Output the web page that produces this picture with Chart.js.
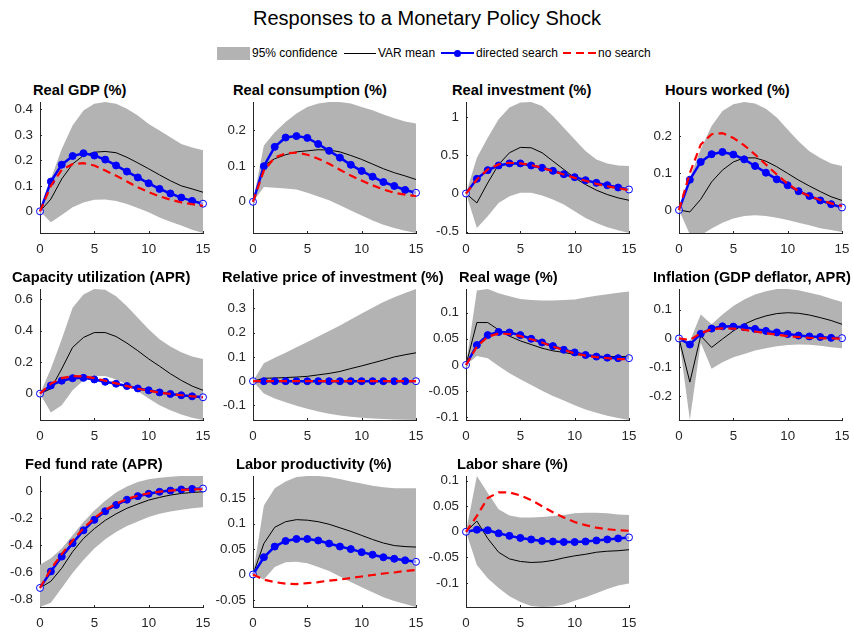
<!DOCTYPE html>
<html>
<head>
<meta charset="utf-8">
<script src="https://cdn.jsdelivr.net/npm/chart.js@4.4.1/dist/chart.umd.min.js"></script>
<style>
  html, body { margin: 0; padding: 0; background: #fff; }
  body { width: 854px; height: 633px; position: relative; overflow: hidden;
         font-family: 'Liberation Sans', Arial, Helvetica, sans-serif; }
  #title { position: absolute; left: 0; top: 6px; width: 854px; text-align: center;
           font-size: 20px; line-height: 24px; color: #000; }
  .lg { position: absolute; }
  .lgtext { position: absolute; top: 46px; font-size: 12px; line-height: 15px; color: #000; white-space: nowrap; }
  .ptitle { position: absolute; white-space: nowrap; font-weight: bold; font-size: 14.67px;
            line-height: 16px; color: #000; }
  canvas { position: absolute; }
</style>
</head>
<body>
<div id="title">Responses to a Monetary Policy Shock</div>

<div class="lg" style="left:217px; top:47px; width:33px; height:13px; background:#b3b3b3;"></div>
<div class="lgtext" style="left:252px;">95% confidence</div>
<div class="lg" style="left:344px; top:53px; width:32px; height:1px; background:#000;"></div>
<div class="lgtext" style="left:378px;">VAR mean</div>
<div class="lg" style="left:441px; top:52px; width:33px; height:2px; background:#0000ff;"></div>
<div class="lg" style="left:454px; top:49.5px; width:7px; height:7px; border-radius:50%; background:#0000ff;"></div>
<div class="lgtext" style="left:476px;">directed search</div>
<div class="lg" style="left:563px; top:52px; width:33px; height:2px;
     background:repeating-linear-gradient(to right, #ff0000 0 8px, transparent 8px 12.5px);"></div>
<div class="lgtext" style="left:598px;">no search</div>

<script>
// horizon (quarters)
const steps = [0, 1, 2, 3, 4, 5, 6, 7, 8, 9, 10, 11, 12, 13, 14, 15];
const xTicks = [0, 5, 10, 15];

// Real GDP
const gdpLo  = [0, -0.043, -0.014, 0.016, 0.035, 0.045, 0.046, 0.041, 0.029, 0.013, -0.004, -0.024, -0.041, -0.056, -0.072, -0.085];
const gdpHi  = [0, 0.127, 0.245, 0.337, 0.396, 0.422, 0.429, 0.422, 0.403, 0.376, 0.343, 0.317, 0.291, 0.264, 0.25, 0.24];
const gdpVar = [0, 0.048, 0.127, 0.186, 0.219, 0.232, 0.235, 0.23, 0.212, 0.19, 0.167, 0.143, 0.12, 0.1, 0.088, 0.075];
const gdpDir = [0, 0.117, 0.183, 0.217, 0.228, 0.219, 0.203, 0.18, 0.156, 0.133, 0.11, 0.088, 0.07, 0.054, 0.041, 0.03];
const gdpNo  = [0, 0.1, 0.163, 0.185, 0.189, 0.18, 0.16, 0.14, 0.117, 0.094, 0.075, 0.059, 0.046, 0.035, 0.028, 0.022];
const gdpTicks = [0, 0.1, 0.2, 0.3, 0.4];

// Real consumption
const conLo  = [0, 0.041, 0.039, 0.037, 0.034, 0.025, 0.015, 0.004, -0.01, -0.024, -0.038, -0.052, -0.064, -0.073, -0.081, -0.087];
const conHi  = [0, 0.157, 0.194, 0.222, 0.246, 0.264, 0.274, 0.278, 0.278, 0.274, 0.264, 0.255, 0.243, 0.233, 0.224, 0.218];
const conVar = [0, 0.101, 0.12, 0.131, 0.139, 0.142, 0.145, 0.144, 0.139, 0.129, 0.118, 0.105, 0.092, 0.081, 0.072, 0.062];
const conDir = [0, 0.099, 0.153, 0.179, 0.183, 0.178, 0.161, 0.142, 0.123, 0.103, 0.086, 0.07, 0.055, 0.044, 0.033, 0.025];
const conNo  = [0, 0.087, 0.123, 0.135, 0.137, 0.131, 0.12, 0.106, 0.089, 0.073, 0.059, 0.046, 0.034, 0.025, 0.02, 0.016];
const conTicks = [0, 0.1, 0.2];

// Real investment
const invLo  = [0, -0.452, -0.298, -0.123, -0.035, 0.009, 0.009, -0.026, -0.079, -0.145, -0.232, -0.32, -0.386, -0.443, -0.482, -0.517];
const invHi  = [0, 0.469, 0.732, 0.974, 1.127, 1.193, 1.2, 1.149, 1.018, 0.864, 0.71, 0.557, 0.447, 0.395, 0.368, 0.36];
const invVar = [0, -0.123, 0.14, 0.38, 0.535, 0.605, 0.6, 0.535, 0.425, 0.316, 0.206, 0.118, 0.044, -0.013, -0.057, -0.088];
const invDir = [0, 0.193, 0.307, 0.368, 0.395, 0.395, 0.368, 0.338, 0.298, 0.254, 0.215, 0.175, 0.14, 0.11, 0.079, 0.053];
const invNo  = [0, 0.184, 0.316, 0.382, 0.404, 0.395, 0.373, 0.338, 0.294, 0.25, 0.206, 0.167, 0.127, 0.096, 0.07, 0.044];
const invTicks = [-0.5, 0, 0.5, 1];

// Hours worked
const hrsLo  = [0, -0.066, -0.068, -0.05, -0.034, -0.023, -0.016, -0.014, -0.016, -0.021, -0.027, -0.034, -0.041, -0.049, -0.054, -0.059];
const hrsHi  = [0, 0.087, 0.164, 0.227, 0.268, 0.286, 0.292, 0.288, 0.274, 0.25, 0.218, 0.186, 0.159, 0.141, 0.126, 0.119];
const hrsVar = [0, -0.005, 0.029, 0.076, 0.108, 0.13, 0.141, 0.141, 0.132, 0.117, 0.099, 0.081, 0.065, 0.05, 0.036, 0.026];
const hrsDir = [0, 0.082, 0.13, 0.151, 0.157, 0.15, 0.137, 0.119, 0.101, 0.083, 0.067, 0.051, 0.038, 0.026, 0.016, 0.007];
const hrsNo  = [0, 0.1, 0.177, 0.205, 0.208, 0.195, 0.175, 0.15, 0.123, 0.096, 0.071, 0.051, 0.038, 0.027, 0.018, 0.011];
const hrsTicks = [0, 0.1, 0.2];

// Capacity utilization
const capLo  = [0, -0.119, -0.073, 0.021, 0.084, 0.111, 0.111, 0.09, 0.056, 0.015, -0.031, -0.073, -0.105, -0.132, -0.153, -0.167];
const capHi  = [0, 0.157, 0.345, 0.544, 0.628, 0.663, 0.659, 0.617, 0.554, 0.481, 0.408, 0.345, 0.299, 0.262, 0.236, 0.22];
const capVar = [0, 0.031, 0.157, 0.293, 0.356, 0.387, 0.387, 0.362, 0.32, 0.272, 0.22, 0.174, 0.126, 0.084, 0.048, 0.021];
const capDir = [0, 0.052, 0.082, 0.098, 0.1, 0.09, 0.075, 0.063, 0.048, 0.033, 0.021, 0.008, -0.002, -0.01, -0.017, -0.023];
const capNo  = [0, 0.063, 0.098, 0.111, 0.109, 0.098, 0.082, 0.065, 0.048, 0.031, 0.019, 0.006, -0.002, -0.01, -0.017, -0.023];
const capTicks = [0, 0.2, 0.4, 0.6];

// Relative price of investment
const rpiLo  = [0, -0.051, -0.071, -0.087, -0.101, -0.114, -0.125, -0.134, -0.141, -0.147, -0.151, -0.154, -0.156, -0.158, -0.159, -0.16];
const rpiHi  = [0, 0.074, 0.097, 0.117, 0.14, 0.162, 0.184, 0.207, 0.23, 0.254, 0.279, 0.303, 0.326, 0.346, 0.363, 0.38];
const rpiVar = [0, 0.012, 0.013, 0.015, 0.017, 0.02, 0.026, 0.032, 0.04, 0.052, 0.063, 0.075, 0.087, 0.1, 0.109, 0.117];
const rpiDir = [0, 0, 0, 0, 0, 0, 0, 0, 0, 0, 0, 0, 0, 0, 0, 0];
const rpiNo  = [0, 0, 0, 0, 0, 0, 0, 0, 0, 0, 0, 0, 0, 0, 0, 0];
const rpiTicks = [-0.1, 0, 0.1, 0.2, 0.3];

// Real wage
const rwLo  = [0, 0.017, 0.013, -0.002, -0.016, -0.027, -0.038, -0.049, -0.059, -0.068, -0.077, -0.085, -0.091, -0.097, -0.101, -0.105];
const rwHi  = [0, 0.142, 0.145, 0.137, 0.131, 0.126, 0.124, 0.123, 0.123, 0.124, 0.125, 0.129, 0.132, 0.135, 0.138, 0.14];
const rwVar = [0, 0.081, 0.081, 0.067, 0.055, 0.046, 0.039, 0.032, 0.027, 0.024, 0.02, 0.018, 0.017, 0.016, 0.016, 0.016];
const rwDir = [0, 0.038, 0.057, 0.063, 0.062, 0.057, 0.05, 0.043, 0.036, 0.029, 0.024, 0.019, 0.016, 0.014, 0.013, 0.013];
const rwNo  = [0, 0.035, 0.054, 0.06, 0.059, 0.055, 0.049, 0.043, 0.035, 0.029, 0.022, 0.018, 0.015, 0.013, 0.011, 0.011];
const rwTicks = [-0.1, -0.05, 0, 0.05, 0.1];

// Inflation (GDP deflator)
const infLo  = [0, -0.282, -0.015, -0.105, -0.082, -0.065, -0.054, -0.042, -0.034, -0.027, -0.023, -0.021, -0.022, -0.025, -0.03, -0.034];
const infHi  = [0, -0.01, 0.083, 0.049, 0.083, 0.112, 0.135, 0.152, 0.163, 0.171, 0.171, 0.167, 0.158, 0.149, 0.137, 0.126];
const infVar = [0, -0.151, 0.009, -0.031, -0.002, 0.026, 0.049, 0.066, 0.078, 0.086, 0.089, 0.087, 0.081, 0.072, 0.062, 0.049];
const infDir = [0, -0.021, 0.016, 0.034, 0.042, 0.041, 0.039, 0.033, 0.026, 0.021, 0.015, 0.01, 0.007, 0.005, 0.002, 0.001];
const infNo  = [0, -0.005, 0.018, 0.032, 0.035, 0.034, 0.03, 0.024, 0.018, 0.013, 0.008, 0.005, 0.002, 0.001, 0, -0.001];
const infTicks = [-0.2, -0.1, 0, 0.1];

// Fed fund rate
const ffrLo  = [-0.853, -0.821, -0.713, -0.604, -0.507, -0.423, -0.355, -0.302, -0.258, -0.225, -0.193, -0.169, -0.152, -0.138, -0.128, -0.121];
const ffrHi  = [-0.543, -0.495, -0.423, -0.326, -0.229, -0.145, -0.072, -0.012, 0.031, 0.065, 0.085, 0.097, 0.104, 0.109, 0.109, 0.109];
const ffrVar = [-0.713, -0.664, -0.568, -0.447, -0.35, -0.278, -0.217, -0.169, -0.128, -0.097, -0.068, -0.048, -0.031, -0.019, -0.012, -0.007];
const ffrDir = [-0.713, -0.592, -0.483, -0.384, -0.29, -0.213, -0.15, -0.104, -0.065, -0.039, -0.022, -0.007, 0.002, 0.01, 0.014, 0.017];
const ffrNo  = [-0.713, -0.575, -0.465, -0.365, -0.275, -0.2, -0.14, -0.095, -0.06, -0.035, -0.018, -0.006, 0.002, 0.007, 0.01, 0.012];
const ffrTicks = [-0.8, -0.6, -0.4, -0.2, 0];

// Labor productivity
const lpLo  = [0, -0.01, 0.015, 0.024, 0.025, 0.022, 0.015, 0.007, -0.004, -0.015, -0.025, -0.035, -0.045, -0.052, -0.058, -0.064];
const lpHi  = [0, 0.136, 0.17, 0.183, 0.192, 0.194, 0.194, 0.192, 0.188, 0.183, 0.179, 0.175, 0.172, 0.17, 0.17, 0.17];
const lpVar = [0, 0.061, 0.093, 0.104, 0.108, 0.107, 0.104, 0.099, 0.092, 0.085, 0.077, 0.069, 0.062, 0.057, 0.055, 0.054];
const lpDir = [0, 0.034, 0.055, 0.066, 0.07, 0.07, 0.067, 0.061, 0.055, 0.05, 0.044, 0.039, 0.034, 0.031, 0.028, 0.025];
const lpNo  = [0, -0.01, -0.015, -0.018, -0.019, -0.017, -0.015, -0.012, -0.01, -0.007, -0.004, -0.001, 0.002, 0.004, 0.007, 0.009];
const lpTicks = [-0.05, 0, 0.05, 0.1, 0.15];

// Labor share
const lsLo  = [0, -0.065, -0.091, -0.11, -0.126, -0.137, -0.145, -0.147, -0.146, -0.142, -0.135, -0.128, -0.12, -0.112, -0.105, -0.101];
const lsHi  = [0, 0.109, 0.076, 0.044, 0.032, 0.028, 0.028, 0.029, 0.031, 0.033, 0.036, 0.037, 0.037, 0.036, 0.034, 0.033];
const lsVar = [0, 0.021, -0.013, -0.04, -0.053, -0.058, -0.06, -0.059, -0.056, -0.051, -0.047, -0.044, -0.04, -0.038, -0.037, -0.035];
const lsDir = [0, 0.004, 0.003, -0.003, -0.008, -0.012, -0.015, -0.018, -0.019, -0.02, -0.02, -0.019, -0.017, -0.015, -0.013, -0.011];
const lsNo  = [0, 0.031, 0.066, 0.077, 0.077, 0.071, 0.062, 0.05, 0.038, 0.028, 0.019, 0.013, 0.008, 0.005, 0.003, 0.002];
const lsTicks = [-0.1, -0.05, 0, 0.05, 0.1];

const BAND = '#b3b3b3';
const BLUE = '#0000ff';
const RED  = '#ff0000';
const AXIS = '#262626';

// plot-area geometry (pixels)
const colLeft = [40, 253, 466, 679];
const rowTop  = [102, 289, 476];
const PW = 163, PH = 131;
const PAD = 20, YW = 45, XH = 24;

// tx = left edge of the panel title, as placed in the original figure
const panels = [
  { title: 'Real GDP (%)', r: 0, c: 0, tx: 33, lo: gdpLo, hi: gdpHi, mean: gdpVar, dir: gdpDir, nos: gdpNo, ticks: gdpTicks, min: -0.085, max: 0.429 },
  { title: 'Real consumption (%)', r: 0, c: 1, tx: 233, lo: conLo, hi: conHi, mean: conVar, dir: conDir, nos: conNo, ticks: conTicks, min: -0.087, max: 0.278 },
  { title: 'Real investment (%)', r: 0, c: 2, tx: 452, lo: invLo, hi: invHi, mean: invVar, dir: invDir, nos: invNo, ticks: invTicks, min: -0.517, max: 1.2 },
  { title: 'Hours worked (%)', r: 0, c: 3, tx: 665, lo: hrsLo, hi: hrsHi, mean: hrsVar, dir: hrsDir, nos: hrsNo, ticks: hrsTicks, min: -0.062, max: 0.292 },
  { title: 'Capacity utilization (APR)', r: 1, c: 0, tx: 12, lo: capLo, hi: capHi, mean: capVar, dir: capDir, nos: capNo, ticks: capTicks, min: -0.167, max: 0.663 },
  { title: 'Relative price of investment (%)', r: 1, c: 1, tx: 222, lo: rpiLo, hi: rpiHi, mean: rpiVar, dir: rpiDir, nos: rpiNo, ticks: rpiTicks, min: -0.16, max: 0.38 },
  { title: 'Real wage (%)', r: 1, c: 2, tx: 459, lo: rwLo, hi: rwHi, mean: rwVar, dir: rwDir, nos: rwNo, ticks: rwTicks, min: -0.105, max: 0.145 },
  { title: 'Inflation (GDP deflator, APR)', r: 1, c: 3, tx: 653, lo: infLo, hi: infHi, mean: infVar, dir: infDir, nos: infNo, ticks: infTicks, min: -0.282, max: 0.171 },
  { title: 'Fed fund rate (APR)', r: 2, c: 0, tx: 25, lo: ffrLo, hi: ffrHi, mean: ffrVar, dir: ffrDir, nos: ffrNo, ticks: ffrTicks, min: -0.853, max: 0.109 },
  { title: 'Labor productivity (%)', r: 2, c: 1, tx: 236, lo: lpLo, hi: lpHi, mean: lpVar, dir: lpDir, nos: lpNo, ticks: lpTicks, min: -0.064, max: 0.194 },
  { title: 'Labor share (%)', r: 2, c: 2, tx: 457, lo: lsLo, hi: lsHi, mean: lsVar, dir: lsDir, nos: lsNo, ticks: lsTicks, min: -0.147, max: 0.109 }
];

Chart.defaults.font.family = "'Liberation Sans', Arial, Helvetica, sans-serif";

// small MATLAB-style ticks pointing into the axes
const innerTicks = {
  id: 'innerTicks',
  beforeDatasetsDraw(chart) {
    const { ctx, chartArea: a, scales: { x, y } } = chart;
    ctx.save();
    ctx.strokeStyle = AXIS;
    ctx.lineWidth = 1;
    ctx.beginPath();
    y.ticks.forEach(t => {
      const py = Math.round(y.getPixelForValue(t.value)) + 0.5;
      ctx.moveTo(a.left, py); ctx.lineTo(a.left + 2, py);
    });
    x.ticks.forEach(t => {
      const px = Math.round(x.getPixelForValue(t.value)) + 0.5;
      ctx.moveTo(px, a.bottom); ctx.lineTo(px, a.bottom - 2);
    });
    ctx.stroke();
    ctx.restore();
  }
};

const tickFont = { size: 13.33 };
const fmt = v => String(+v.toFixed(3));

function drawPanel(p) {
  const L = colLeft[p.c], T = rowTop[p.r];

  const t = document.createElement('div');
  t.className = 'ptitle';
  t.textContent = p.title;
  t.style.left = p.tx + 'px';
  t.style.top = (T - 20) + 'px';
  document.body.appendChild(t);

  const cv = document.createElement('canvas');
  cv.width = PAD + YW + PW + PAD;
  cv.height = PAD + PH + XH + PAD;
  cv.style.left = (L - PAD - YW) + 'px';
  cv.style.top = (T - PAD) + 'px';
  document.body.appendChild(cv);

  const ends = steps.map((s, i) => (i === 0 || i === steps.length - 1) ? 'rgba(255,255,255,0.55)' : BLUE);

  new Chart(cv, {
    type: 'line',
    data: {
      labels: steps,
      datasets: [
        { data: p.lo, borderColor: 'rgba(0,0,0,0)', borderWidth: 0, pointRadius: 0, fill: false, order: 4 },
        { data: p.hi, borderColor: 'rgba(0,0,0,0)', borderWidth: 0, pointRadius: 0, fill: '-1', backgroundColor: BAND, order: 3 },
        { data: p.mean, borderColor: '#000', borderWidth: 1, pointRadius: 0, order: 2, clip: false },
        { data: p.dir, borderColor: BLUE, borderWidth: 2.5, pointRadius: 3.5, pointBorderWidth: 1,
          pointBorderColor: BLUE, pointBackgroundColor: ends, order: 1, clip: false },
        { data: p.nos, borderColor: RED, borderWidth: 2.2, borderDash: [8, 5], pointRadius: 0, order: 0, clip: false }
      ]
    },
    options: {
      responsive: false,
      animation: false,
      events: [],
      layout: { padding: PAD },
      plugins: { legend: { display: false }, tooltip: { enabled: false } },
      scales: {
        x: {
          type: 'linear', min: 0, max: 15,
          grid: { display: false, drawTicks: false },
          border: { display: true, color: AXIS, width: 1 },
          ticks: { color: AXIS, font: tickFont, padding: 8, maxRotation: 0, autoSkip: false, callback: fmt },
          afterBuildTicks: s => { s.ticks = xTicks.map(v => ({ value: v })); },
          afterFit: s => { s.height = XH; }
        },
        y: {
          min: p.min, max: p.max,
          grid: { display: false, drawTicks: false },
          border: { display: true, color: AXIS, width: 1 },
          ticks: { color: AXIS, font: tickFont, padding: 7, autoSkip: false, callback: fmt },
          afterBuildTicks: s => { s.ticks = p.ticks.map(v => ({ value: v })); },
          afterFit: s => { s.width = YW; }
        }
      }
    },
    plugins: [innerTicks]
  });
}

panels.forEach(drawPanel);
</script>
</body>
</html>
